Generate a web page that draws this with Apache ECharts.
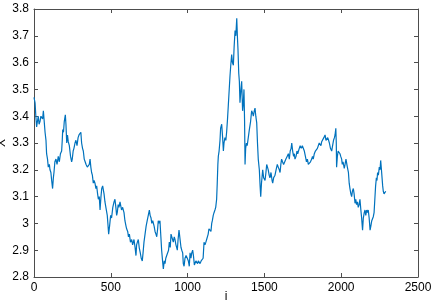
<!DOCTYPE html>
<html>
<head>
<meta charset="utf-8">
<script src="https://cdn.jsdelivr.net/npm/echarts@6/dist/echarts.min.js"></script>
<style>html,body{margin:0;padding:0;background:#fff}#c{width:431px;height:303px}</style>
</head>
<body>
<div id="c"></div>
<script>
var iValues = [0,7,12,17,22,28,33,39,45,50,56,61,67,72,78,82,88,93,100,104,110,115,121,126,130,136,143,150,158,165,172,180,184,187,192,197,204,208,213,218,223,230,238,245,249,255,260,267,273,280,287,293,299,305,310,316,321,327,333,339,347,354,360,365,370,375,380,386,391,397,403,408,414,419,425,430,436,441,447,451,456,462,468,477,481,486,492,499,505,513,521,527,533,538,542,548,553,560,564,570,577,586,592,599,603,610,615,621,628,636,642,651,658,664,668,673,679,685,692,698,705,710,716,723,730,737,744,751,756,762,767,773,777,782,788,794,799,805,809,815,820,826,831,837,842,848,853,858,864,870,876,881,887,892,896,902,907,913,918,924,929,933,938,944,951,957,962,968,972,977,983,990,998,1005,1011,1016,1022,1027,1033,1038,1044,1048,1054,1059,1065,1070,1075,1081,1088,1096,1101,1107,1113,1119,1124,1128,1134,1139,1146,1152,1157,1161,1167,1172,1178,1183,1189,1193,1197,1200,1205,1211,1215,1222,1228,1233,1237,1243,1249,1254,1260,1265,1270,1276,1281,1287,1292,1298,1303,1309,1314,1320,1324,1328,1333,1337,1341,1346,1352,1358,1363,1367,1371,1374,1378,1383,1388,1395,1402,1410,1417,1424,1428,1434,1439,1444,1450,1455,1460,1467,1472,1476,1481,1489,1495,1504,1510,1515,1519,1525,1531,1536,1543,1550,1554,1560,1569,1576,1584,1590,1597,1602,1607,1612,1618,1625,1634,1640,1648,1656,1662,1668,1674,1678,1684,1690,1695,1699,1706,1712,1717,1721,1727,1733,1740,1747,1753,1760,1767,1774,1780,1786,1792,1800,1808,1813,1818,1825,1832,1840,1845,1851,1857,1862,1868,1873,1880,1887,1895,1901,1905,1912,1918,1923,1930,1938,1944,1950,1956,1960,1965,1968,1970,1975,1980,1986,1992,1997,2003,2007,2012,2020,2025,2031,2036,2040,2047,2052,2057,2063,2068,2073,2079,2084,2090,2095,2100,2106,2111,2117,2122,2128,2133,2139,2144,2150,2155,2160,2166,2171,2176,2182,2188,2193,2199,2204,2209,2214,2219,2224,2229,2233,2237,2242,2248,2253,2257,2262,2266,2270,2274,2279,2285,2290];
var xValues = [3.47,3.45,3.40,3.36,3.38,3.40,3.37,3.38,3.40,3.405,3.39,3.42,3.42,3.34,3.31,3.26,3.24,3.21,3.22,3.20,3.19,3.16,3.13,3.17,3.19,3.23,3.24,3.22,3.25,3.23,3.26,3.27,3.31,3.35,3.34,3.38,3.405,3.37,3.30,3.33,3.305,3.29,3.25,3.23,3.24,3.27,3.28,3.30,3.31,3.29,3.32,3.33,3.335,3.34,3.30,3.28,3.27,3.24,3.23,3.22,3.21,3.205,3.22,3.24,3.21,3.19,3.18,3.15,3.16,3.15,3.13,3.14,3.11,3.09,3.10,3.05,3.10,3.13,3.14,3.14,3.11,3.08,3.06,3.03,3.00,2.96,2.99,3.03,3.02,3.06,3.08,3.09,3.06,3.03,3.04,3.07,3.06,3.08,3.08,3.05,3.06,3.04,3.01,2.99,2.98,2.97,2.95,2.96,2.93,2.94,2.92,2.94,2.91,2.88,2.92,2.93,2.94,2.91,2.89,2.87,2.86,2.89,2.93,2.96,2.99,3.01,3.03,3.05,3.03,3.02,3.00,3.01,3.01,2.99,2.97,2.96,2.95,2.98,3.01,3.00,3.01,2.95,2.90,2.86,2.83,2.86,2.85,2.87,2.88,2.88,2.90,2.93,2.91,2.96,2.96,2.94,2.93,2.95,2.94,2.92,2.91,2.90,2.94,2.975,2.98,2.91,2.90,2.89,2.85,2.84,2.87,2.88,2.87,2.86,2.84,2.89,2.87,2.89,2.90,2.88,2.845,2.85,2.86,2.86,2.85,2.86,2.855,2.85,2.86,2.86,2.87,2.93,2.92,2.93,2.94,2.94,2.96,2.98,2.98,2.97,3.00,3.01,3.03,3.04,3.05,3.06,3.09,3.15,3.22,3.25,3.27,3.31,3.355,3.37,3.32,3.27,3.30,3.32,3.31,3.34,3.39,3.44,3.49,3.55,3.59,3.63,3.60,3.59,3.66,3.72,3.70,3.765,3.70,3.65,3.56,3.53,3.45,3.49,3.53,3.42,3.45,3.50,3.38,3.22,3.28,3.30,3.29,3.29,3.35,3.38,3.42,3.41,3.40,3.42,3.43,3.40,3.375,3.30,3.24,3.20,3.14,3.10,3.15,3.20,3.17,3.16,3.19,3.22,3.225,3.20,3.18,3.17,3.19,3.16,3.15,3.17,3.18,3.20,3.22,3.21,3.20,3.19,3.22,3.24,3.23,3.22,3.22,3.24,3.25,3.26,3.24,3.27,3.28,3.30,3.27,3.25,3.26,3.24,3.25,3.27,3.26,3.26,3.28,3.29,3.28,3.29,3.29,3.27,3.25,3.23,3.24,3.22,3.22,3.23,3.24,3.25,3.24,3.26,3.27,3.27,3.28,3.28,3.30,3.305,3.29,3.305,3.31,3.32,3.33,3.31,3.31,3.32,3.31,3.30,3.28,3.27,3.29,3.31,3.32,3.33,3.355,3.30,3.21,3.25,3.27,3.27,3.26,3.25,3.24,3.22,3.23,3.205,3.22,3.24,3.24,3.21,3.19,3.15,3.13,3.11,3.10,3.12,3.13,3.11,3.075,3.09,3.07,3.08,3.06,3.07,3.09,3.05,3.02,2.975,3.02,3.04,3.05,3.03,3.05,3.04,3.05,3.02,2.975,2.99,3.01,3.01,3.025,3.04,3.09,3.14,3.17,3.16,3.19,3.18,3.21,3.20,3.235,3.20,3.17,3.14,3.12,3.11,3.11,3.12];
var xTicks = [0, 500, 1000, 1500, 2000, 2500];
var yTicks = [2.8, 2.9, 3, 3.1, 3.2, 3.3, 3.4, 3.5, 3.6, 3.7, 3.8];

var points = iValues.map(function (v, k) { return [v, xValues[k]]; });
var axisColor = '#4d4d4d';
var font = 'Liberation Sans, Arial, sans-serif';
function xAx(pos, show) {
  return {
    type: 'value', position: pos, min: xTicks[0], max: xTicks[xTicks.length - 1], interval: 500,
    name: show ? 'i' : '', nameLocation: 'middle', nameGap: 14, nameMoveOverlap: false,
    nameTextStyle: { color: '#000', fontSize: 12, fontFamily: font },
    axisLine: { show: true, onZero: false, lineStyle: { color: axisColor, width: 1 } },
    axisTick: { show: true, inside: true, length: 4, lineStyle: { color: axisColor } },
    axisLabel: { show: show, color: '#000', fontSize: 12, fontFamily: font, margin: 5,
      formatter: function (v) { return String(v); } },
    splitLine: { show: false }
  };
}
function yAx(pos, show) {
  return {
    type: 'value', position: pos, min: yTicks[0], max: yTicks[yTicks.length - 1], interval: 0.1,
    name: show ? 'X' : '', nameLocation: 'middle', nameGap: 26, nameRotate: 90, nameMoveOverlap: false,
    nameTextStyle: { color: '#000', fontSize: 12, fontFamily: font },
    axisLine: { show: true, onZero: false, lineStyle: { color: axisColor, width: 1 } },
    axisTick: { show: true, inside: true, length: 4, lineStyle: { color: axisColor } },
    axisLabel: { show: show, color: '#000', fontSize: 12, fontFamily: font, margin: 5,
      formatter: function (v) { return String(Math.round(v * 10) / 10); } },
    splitLine: { show: false }
  };
}
var chart = echarts.init(document.getElementById('c'), null, { renderer: 'canvas' });
chart.setOption({
  animation: false,
  backgroundColor: '#fff',
  grid: { left: 34, right: 13, top: 9, bottom: 26, containLabel: false, outerBoundsMode: 'none' },
  xAxis: [xAx('bottom', true), xAx('top', false)],
  yAxis: [yAx('left', true), yAx('right', false)],
  series: [{
    type: 'line', data: points, xAxisIndex: 0, yAxisIndex: 0,
    showSymbol: false, symbol: 'none',
    lineStyle: { color: '#0072BD', width: 1.2 }
  }]
});
</script>
</body>
</html>
